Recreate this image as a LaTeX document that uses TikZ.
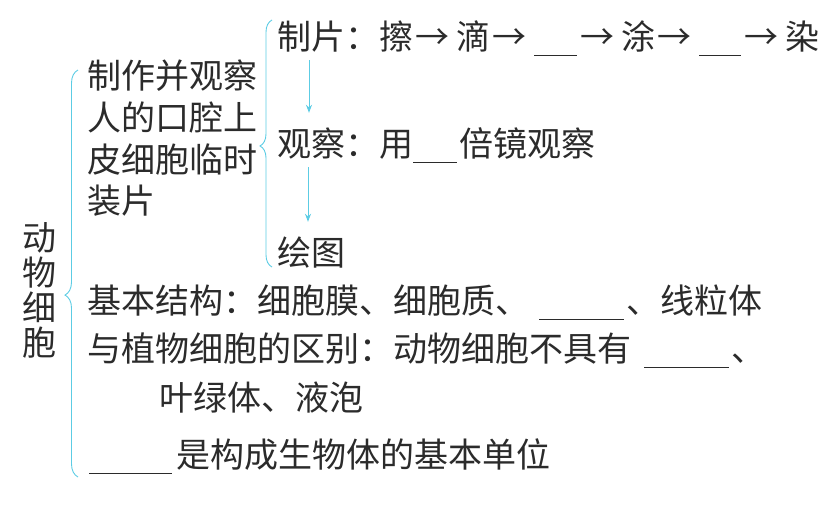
\documentclass[tikz,border=0pt]{standalone}
\usepackage{fontspec}
\setmainfont{Noto Sans CJK SC}
\usepackage{tikz}
\usetikzlibrary{decorations.pathreplacing,arrows.meta}
\definecolor{cyanline}{HTML}{5CCCE4}
\definecolor{ink}{HTML}{2B2B2B}
\newcommand\blank[1]{\rule[-7pt]{#1}{0.9pt}}
\newcommand\nxt{\hspace{2pt}→\hspace{7pt}}

\begin{document}
\begin{tikzpicture}[x=1pt,y=1pt,font=\fontsize{34}{35}\selectfont,text=ink,
line/.style={inner sep=0pt,anchor=west,text height=30pt,text depth=4pt},
blk/.style={inner sep=0pt,align=left,anchor=west,font=\fontsize{34}{41.7}\selectfont},
flow/.style={draw=cyanline,line width=0.9pt,-{Stealth[length=8pt,width=6pt]}},
brc/.style={draw=cyanline,line width=0.9pt,decorate,decoration={brace,amplitude=#1}}]
\useasboundingbox (0,0) rectangle (838,-507);
% title and the two braces
\node[inner sep=0pt,align=center] (cell) at (39,-290) {动\\物\\细\\胞};
\coordinate (obot) at (78,-477);
\coordinate (otop) at (78,-70);
\coordinate (ibot) at (272,-267);
\coordinate (itop) at (272,-20);
\draw[brc=13pt,decoration={aspect=0.447}] (obot) -- (otop);
\draw[brc=12pt,decoration={aspect=0.49}] (ibot) -- (itop);
% temporary slide
\node[blk] (slide) at (87,-138.5) {制作并观察\\人的口腔上\\皮细胞临时\\装片};
\node[line] (zp) at (277,-36) {制片：擦\nxt 滴\nxt\hspace{1pt}\blank{43pt}\hspace{1pt}\nxt 涂\nxt\hspace{1pt}\blank{42pt}\hspace{1pt}\nxt 染};
\node[line] (gc) at (277,-143) {观察：用\blank{44pt}\hspace{2pt}倍镜观察};
\node[line] (ht) at (277,-252) {绘图};
\draw[flow,shorten <=7pt,shorten >=13pt] ([xshift=32pt]zp.south west) -- ([xshift=32pt]gc.north west);
\draw[flow,shorten <=7pt,shorten >=13pt] ([xshift=31pt]gc.south west) -- ([xshift=31pt]ht.north west);
% structure and comparison
\node[line] (jg) at (87,-300) {基本结构：细胞膜、细胞质、\hspace{10pt}\blank{85pt}\hspace{2pt}、线粒体};
\node[line] (qb) at (87,-348) {与植物细胞的区别：动物细胞不具有\hspace{13pt}\blank{85pt}\hspace{2pt}、};
\node[line] (qb2) at (159,-397) {叶绿体、液泡};
\node[line] (dw) at (89,-454) {\blank{83pt}\hspace{4pt}是构成生物体的基本单位};
\end{tikzpicture}
\end{document}
